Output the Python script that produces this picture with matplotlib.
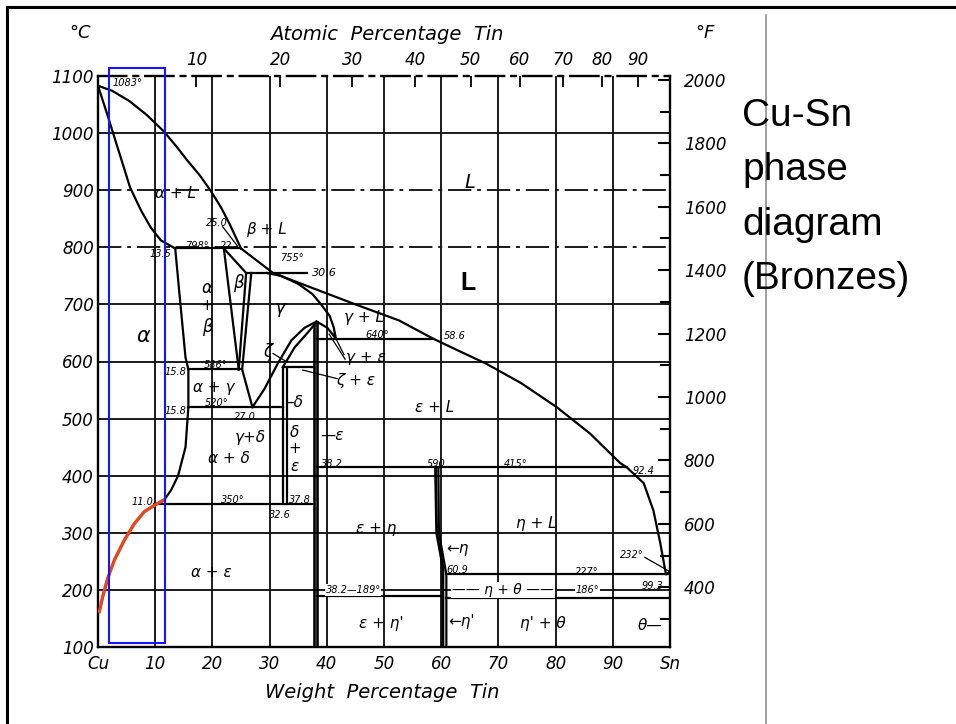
import numpy as np
import matplotlib.pyplot as plt
from matplotlib.lines import Line2D
from matplotlib.patches import Rectangle

plt.rcParams['font.family'] = ['DejaVu Sans']
plt.rcParams['font.style'] = 'italic'

# --- scales ---
temp_ticks = [100, 200, 300, 400, 500, 600, 700, 800, 900, 1000, 1100]
wt_ticks = [0, 10, 20, 30, 40, 50, 60, 70, 80, 90, 100]
wt_labels = ['Cu', '10', '20', '30', '40', '50', '60', '70', '80', '90', 'Sn']
at_ticks = [10, 20, 30, 40, 50, 60, 70, 80, 90]
at_labels = ['10', '20', '30', '40', '50', '60', '70', '80', '90']
f_ticks = [400, 600, 800, 1000, 1200, 1400, 1600, 1800, 2000]
f_minor = list(range(300, 2001, 100))

# --- phase boundaries (wt% Sn, degC) ---
liq_cu_wt = [0, 2.5, 5.5, 8.5, 11.4, 13.6, 15.7, 17.8, 19.7, 21.5, 23.0, 25.0]
liq_cu_T = [1083, 1074, 1056, 1032, 1004, 978, 951, 926, 899, 870, 841, 798]
liq_sn_wt = [25.0, 30.6, 32.7, 45.0, 52.6, 58.6, 63.0, 67.9, 74.0, 80.2, 86.0, 91.3,
             92.4, 95.4, 97.1, 98.3, 99.3, 100]
liq_sn_T = [798, 755, 747, 700, 672, 640, 619, 596, 562, 520, 474, 422,
            415, 387, 339, 282, 227, 232]
sol_wt = [0, 1.8, 2.7, 4.2, 5.6, 7.5, 9.2, 11.0, 13.5]
sol_T = [1083, 1027, 998, 950, 905, 865, 835, 812, 798]
solv_wt = [13.5, 14.3, 15.3, 15.8, 15.8, 15.3, 14.0, 12.8, 11.6, 9.85, 8.1, 6.35, 4.6, 2.85, 1.69, 0.82, 0.23]
solv_T = [798, 712, 607, 586, 520, 450, 400, 375, 358, 348, 337, 316, 287, 252, 220, 188, 162]
red_wt = [11.6, 9.85, 8.1, 6.35, 4.6, 2.85, 1.69, 0.82, 0.23]
red_T = [358, 348, 337, 316, 287, 252, 220, 188, 162]
beta_l_wt, beta_l_T = [22.0, 24.6], [798, 586]
beta_s_wt, beta_s_T = [22.0, 25.9], [798, 755]
beta_r_wt, beta_r_T = [25.9, 24.6], [755, 586]
gam_l_wt, gam_l_T = [26.8, 25.2, 27.0], [755, 586, 520]
gam_s_wt = [29.5, 32.0, 35.0, 37.5, 39.0, 40.5, 41.2, 41.6]
gam_s_T = [755, 750, 736, 718, 700, 680, 660, 640]
dome_wt = [27.0, 29.1, 31.4, 33.8, 36.1, 38.2, 40.1, 41.6]
dome_T = [520, 552, 596, 637, 659, 670, 659, 640]
idome_wt = [32.3, 34.4, 36.7, 37.8]
idome_T = [590, 625, 651, 664]
eps_wt = [37.8, 38.2]
eps_top = [664, 670]
delta_wt = [32.3, 33.1]
eta_l_wt, eta_l_T = [59.0, 59.2, 60.3, 60.3], [415, 300, 240, 100]
eta_r_wt, eta_r_T = [59.5, 59.6, 60.9, 60.9], [415, 300, 227, 100]
# isotherms: (temperature, from wt, to wt)
iso_T = [798, 755, 640, 586, 590, 520, 415, 350, 227, 189, 186]
iso_from = [13.5, 25.9, 38.2, 15.8, 32.3, 15.8, 38.2, 9.8, 60.9, 38.2, 60.9]
iso_to = [25.0, 36.5, 58.6, 25.2, 37.8, 32.3, 92.4, 37.8, 100, 60.3, 100]

def at_to_wt(a):
    a = np.asarray(a, dtype=float)
    return 100 * a * 118.71 / (a * 118.71 + (100 - a) * 63.55)

def c_to_f(c):
    return np.asarray(c) * 9 / 5 + 32

fig = plt.figure(figsize=(9.56, 7.24), dpi=100)
ax = fig.add_axes([98 / 956, 77 / 724, 572 / 956, 571 / 724])
ax.set_xlim(0, 100)
ax.set_ylim(100, 1100)

lw_grid = 1.4
ax.vlines(wt_ticks[1:-1], 100, 1100, color='#1a1a1a', lw=lw_grid, zorder=1)
for t in temp_ticks[1:-1]:
    ls = (0, (12, 3, 2, 3)) if t in (800, 900) else '-'
    ax.hlines(t, 0, 100, color='#1a1a1a', lw=lw_grid, linestyles=ls, zorder=1)

for s in ['left', 'right', 'bottom', 'top']:
    ax.spines[s].set_linewidth(1.7)
ax.spines['top'].set_linestyle((0, (12, 3, 2, 3)))

kw = dict(color='black', lw=1.6, zorder=3)
ax.plot(liq_cu_wt, liq_cu_T, **kw)
ax.plot(liq_sn_wt, liq_sn_T, **kw)
ax.plot(sol_wt, sol_T, **kw)
ax.plot(solv_wt, solv_T, **kw)
ax.plot(beta_l_wt, beta_l_T, **kw)
ax.plot(beta_s_wt, beta_s_T, **kw)
ax.plot(beta_r_wt, beta_r_T, **kw)
ax.plot(gam_l_wt, gam_l_T, **kw)
ax.plot(gam_s_wt, gam_s_T, **kw)
ax.plot(dome_wt, dome_T, **kw)
ax.plot(idome_wt, idome_T, **kw)
ax.plot(eps_wt, eps_top, **kw)
for w, top in zip(eps_wt, eps_top):
    ax.plot([w, w], [top, 100], color='black', lw=1.9, zorder=3)
for w in delta_wt:
    ax.plot([w, w], [590, 350], **kw)
ax.plot(eta_l_wt, eta_l_T, color='black', lw=2.0, zorder=3)
ax.plot(eta_r_wt, eta_r_T, **kw)
for t, a, b in zip(iso_T, iso_from, iso_to):
    ax.plot([a, b], [t, t], **kw)

# leader lines
lead = dict(color='black', lw=0.9, zorder=3)
ax.plot([21.8, 24.4], [836, 802], **lead)
ax.plot([30.6, 32.9], [614, 600], **lead)
ax.plot([43.2, 40.4], [604, 648], **lead)
ax.plot([43.0, 41.2], [612, 648], **lead)
ax.plot([41.8, 35.8], [570, 585], **lead)
ax.plot([95.6, 99.8], [257, 233], **lead)

# highlighted overlays
ax.plot(red_wt, red_T, color='#e8461e', lw=2.4, zorder=5)
ax.add_patch(Rectangle((1.9, 107), 9.8, 1007, fill=False, edgecolor='#1414ff',
                       lw=1.5, zorder=6, clip_on=False))

# phase labels
labels = [
    ('1083°', 5.1, 1088, 7), ('α + L', 13.6, 895, 11), ('L', 65.0, 913, 14),
    ('25.0', 20.8, 843, 7), ('β + L', 29.5, 832, 11), ('798°', 17.3, 803, 7),
    ('22', 22.4, 803, 7), ('13.5', 11.0, 789, 7), ('755°', 33.9, 781, 7),
    ('30.6', 39.6, 755, 8), ('α', 19.1, 728, 12), ('+', 19.1, 698, 11),
    ('β', 19.1, 660, 12), ('β', 24.5, 738, 12), ('γ', 31.8, 693, 13),
    ('α', 7.9, 645, 15), ('γ + L', 46.5, 677, 11), ('640°', 48.8, 647, 7),
    ('58.6', 62.4, 645, 7), ('ζ', 29.7, 617, 12), ('γ + ε', 46.9, 607, 11),
    ('ζ + ε', 45.1, 567, 11), ('586°', 20.5, 593, 7), ('15.8', 13.6, 582, 7),
    ('α + γ', 20.3, 554, 11), ('520°', 20.8, 527, 7), ('15.8', 13.6, 513, 7),
    ('27.0', 25.7, 503, 7), ('–δ', 34.4, 528, 11), ('γ+δ', 26.6, 467, 11),
    ('δ', 34.4, 476, 11), ('+', 34.4, 448, 11), ('ε', 34.4, 416, 11),
    ('—ε', 40.9, 471, 11), ('α + δ', 22.9, 430, 11), ('38.2', 40.9, 421, 7),
    ('ε + L', 58.9, 520, 11), ('590', 59.1, 421, 7), ('415°', 73.1, 421, 7),
    ('92.4', 95.3, 408, 7), ('350°', 23.6, 358, 7), ('11.0', 7.7, 354, 7),
    ('37.8', 35.3, 358, 7), ('32.6', 31.8, 332, 7), ('ε + η', 48.6, 308, 11),
    ('←η', 62.9, 273, 11), ('η + L', 76.6, 317, 11), ('232°', 93.4, 261, 7),
    ('60.9', 62.9, 235, 7), ('227°', 85.5, 232, 7), ('α + ε', 19.9, 231, 11),
    ('99.3', 97.0, 207, 7), ('ε + η\'', 49.5, 142, 11), ('←η\'', 63.6, 144, 11),
    ('η\' + θ', 77.8, 142, 11), ('θ—', 96.5, 138, 11),
]
for txt, x, y, fs in labels:
    ax.text(x, y, txt, fontsize=fs, ha='center', va='center', zorder=4)

wbox = dict(facecolor='white', edgecolor='none', pad=0.5)
ax.text(44.6, 200, '38.2—189°', fontsize=7, ha='center', va='center', bbox=wbox, zorder=4)
ax.text(70.8, 200, '—— η + θ ——', fontsize=10, ha='center', va='center', bbox=wbox, zorder=4)
ax.text(85.5, 200, '186°', fontsize=7, ha='center', va='center', bbox=wbox, zorder=4)

ax.text(64.7, 738, 'L', family='Liberation Sans', style='normal', weight='bold',
        fontsize=18, ha='center', va='center', zorder=7)

# axes ticks
ax.set_xticks(wt_ticks, wt_labels)
ax.set_yticks(temp_ticks, [str(t) for t in temp_ticks])
ax.tick_params(axis='x', length=0, pad=6, labelsize=12)
ax.tick_params(axis='y', length=0, pad=3, labelsize=12)

ax_t = ax.twiny()
ax_t.set_xlim(0, 100)
ax_t.set_xticks(at_to_wt(at_ticks), at_labels)
ax_t.tick_params(axis='x', direction='in', length=8, width=1.3, pad=5, labelsize=12)
for s in ax_t.spines.values():
    s.set_visible(False)

ax_f = ax.twinx()
ax_f.set_ylim(c_to_f(100), c_to_f(1100))
ax_f.set_yticks(f_ticks, [str(f) for f in f_ticks])
ax_f.set_yticks(f_minor, minor=True)
ax_f.tick_params(axis='y', which='major', direction='in', length=9, width=1.5, pad=10, labelsize=12)
ax_f.tick_params(axis='y', which='minor', direction='in', length=7, width=1.5)
for s in ax_f.spines.values():
    s.set_visible(False)

# titles around the diagram
fig.text(80 / 956, 1 - 33 / 724, '°C', fontsize=13, ha='center', va='center')
fig.text(705 / 956, 1 - 33 / 724, '°F', fontsize=13, ha='center', va='center')
fig.text(387 / 956, 1 - 35 / 724, 'Atomic  Percentage  Tin', fontsize=14, ha='center', va='center')
fig.text(382 / 956, 1 - 693 / 724, 'Weight  Percentage  Tin', fontsize=14, ha='center', va='center')

fig.text(742 / 956, 1 - 98 / 724, 'Cu-Sn\nphase\ndiagram\n(Bronzes)', family='Liberation Sans',
         style='normal', fontsize=28, ha='left', va='top', linespacing=1.66)

# page frame and separator
fig.add_artist(Line2D([7 / 956, 7 / 956], [0, 1 - 7 / 724], transform=fig.transFigure, color='black', lw=2.2))
fig.add_artist(Line2D([7 / 956, 1], [1 - 7 / 724, 1 - 7 / 724], transform=fig.transFigure, color='black', lw=2.2))
fig.add_artist(Line2D([766 / 956, 766 / 956], [0, 1 - 15 / 724], transform=fig.transFigure, color='#8c8c8c', lw=1.2))

fig.savefig('out.png', dpi=100)
